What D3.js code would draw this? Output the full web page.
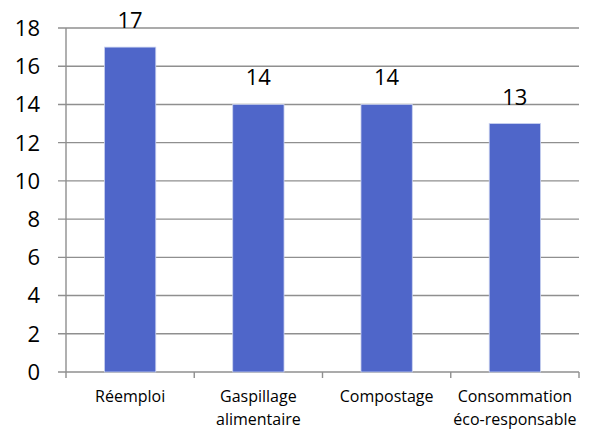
<!DOCTYPE html>
<html><head><meta charset="utf-8">
<script src="https://cdn.jsdelivr.net/npm/d3@7"></script>
<style>body{margin:0;background:#fff}svg{display:block}</style>
</head><body>
<script>
const categories = [["Réemploi"], ["Gaspillage", "alimentaire"], ["Compostage"], ["Consommation", "éco-responsable"]];
const values = [17, 14, 14, 13];
const yTicks = [0, 2, 4, 6, 8, 10, 12, 14, 16, 18];

const W = 592, H = 430;
const m = {left: 66, right: 13, top: 28, bottom: 58};
const svg = d3.select("body").append("svg").attr("width", W).attr("height", H);

const x = d3.scaleBand().domain(d3.range(categories.length)).range([m.left, W - m.right]).paddingInner(0.6).paddingOuter(0.3);
const xc = d3.scaleBand().domain(d3.range(categories.length)).range([m.left, W - m.right]);
const y = d3.scaleLinear().domain([0, 18]).range([H - m.bottom, m.top]);

const grid = "#8f8f8f";
// gridlines
svg.append("g").selectAll("line").data(yTicks).join("line")
  .attr("x1", m.left - 8).attr("x2", W - m.right)
  .attr("y1", d => y(d)).attr("y2", d => y(d))
  .attr("stroke", grid).attr("stroke-width", 1.4);

// y tick labels
svg.append("g").selectAll("text").data(yTicks).join("text")
  .attr("x", 40).attr("y", d => y(d)).attr("dy", "0.36em")
  .attr("text-anchor", "end")
  .attr("font-family", "'Open Sans', sans-serif").attr("font-size", 22).attr("fill", "#000")
  .text(d => d);

// y axis line
svg.append("line").attr("x1", m.left).attr("x2", m.left).attr("y1", y(18)).attr("y2", y(0))
  .attr("stroke", grid).attr("stroke-width", 1.4);

// x tick marks at category boundaries
const bounds = d3.range(categories.length + 1).map(i => i < categories.length ? xc(i) : xc(i - 1) + xc.bandwidth());
svg.append("g").selectAll("line").data(bounds).join("line")
  .attr("x1", d => d).attr("x2", d => d).attr("y1", y(0)).attr("y2", y(0) + 6)
  .attr("stroke", grid).attr("stroke-width", 1.4);

// bars
svg.append("g").selectAll("rect").data(values).join("rect")
  .attr("x", (d, i) => x(i)).attr("width", x.bandwidth())
  .attr("y", d => y(d)).attr("height", d => y(0) - y(d))
  .attr("fill", "#4f66c9").attr("stroke", "#c9d1ef").attr("stroke-width", 0.8);

// value labels
svg.append("g").selectAll("text").data(values).join("text")
  .attr("x", (d, i) => x(i) + x.bandwidth() / 2).attr("y", d => y(d) - 19)
  .attr("text-anchor", "middle")
  .attr("font-family", "'Open Sans', sans-serif").attr("font-size", 22).attr("fill", "#000")
  .text(d => d);

// category labels
const cl = svg.append("g").selectAll("text").data(categories).join("text")
  .attr("x", (d, i) => xc(i) + xc.bandwidth() / 2).attr("y", 402)
  .attr("text-anchor", "middle")
  .attr("font-family", "'Open Sans', sans-serif").attr("font-size", 16).attr("fill", "#000");
cl.selectAll("tspan").data(d => d).join("tspan")
  .attr("x", function() { return this.parentNode.getAttribute("x"); })
  .attr("dy", (d, i) => i === 0 ? 0 : 22.5)
  .text(d => d);
</script>
</body></html>
